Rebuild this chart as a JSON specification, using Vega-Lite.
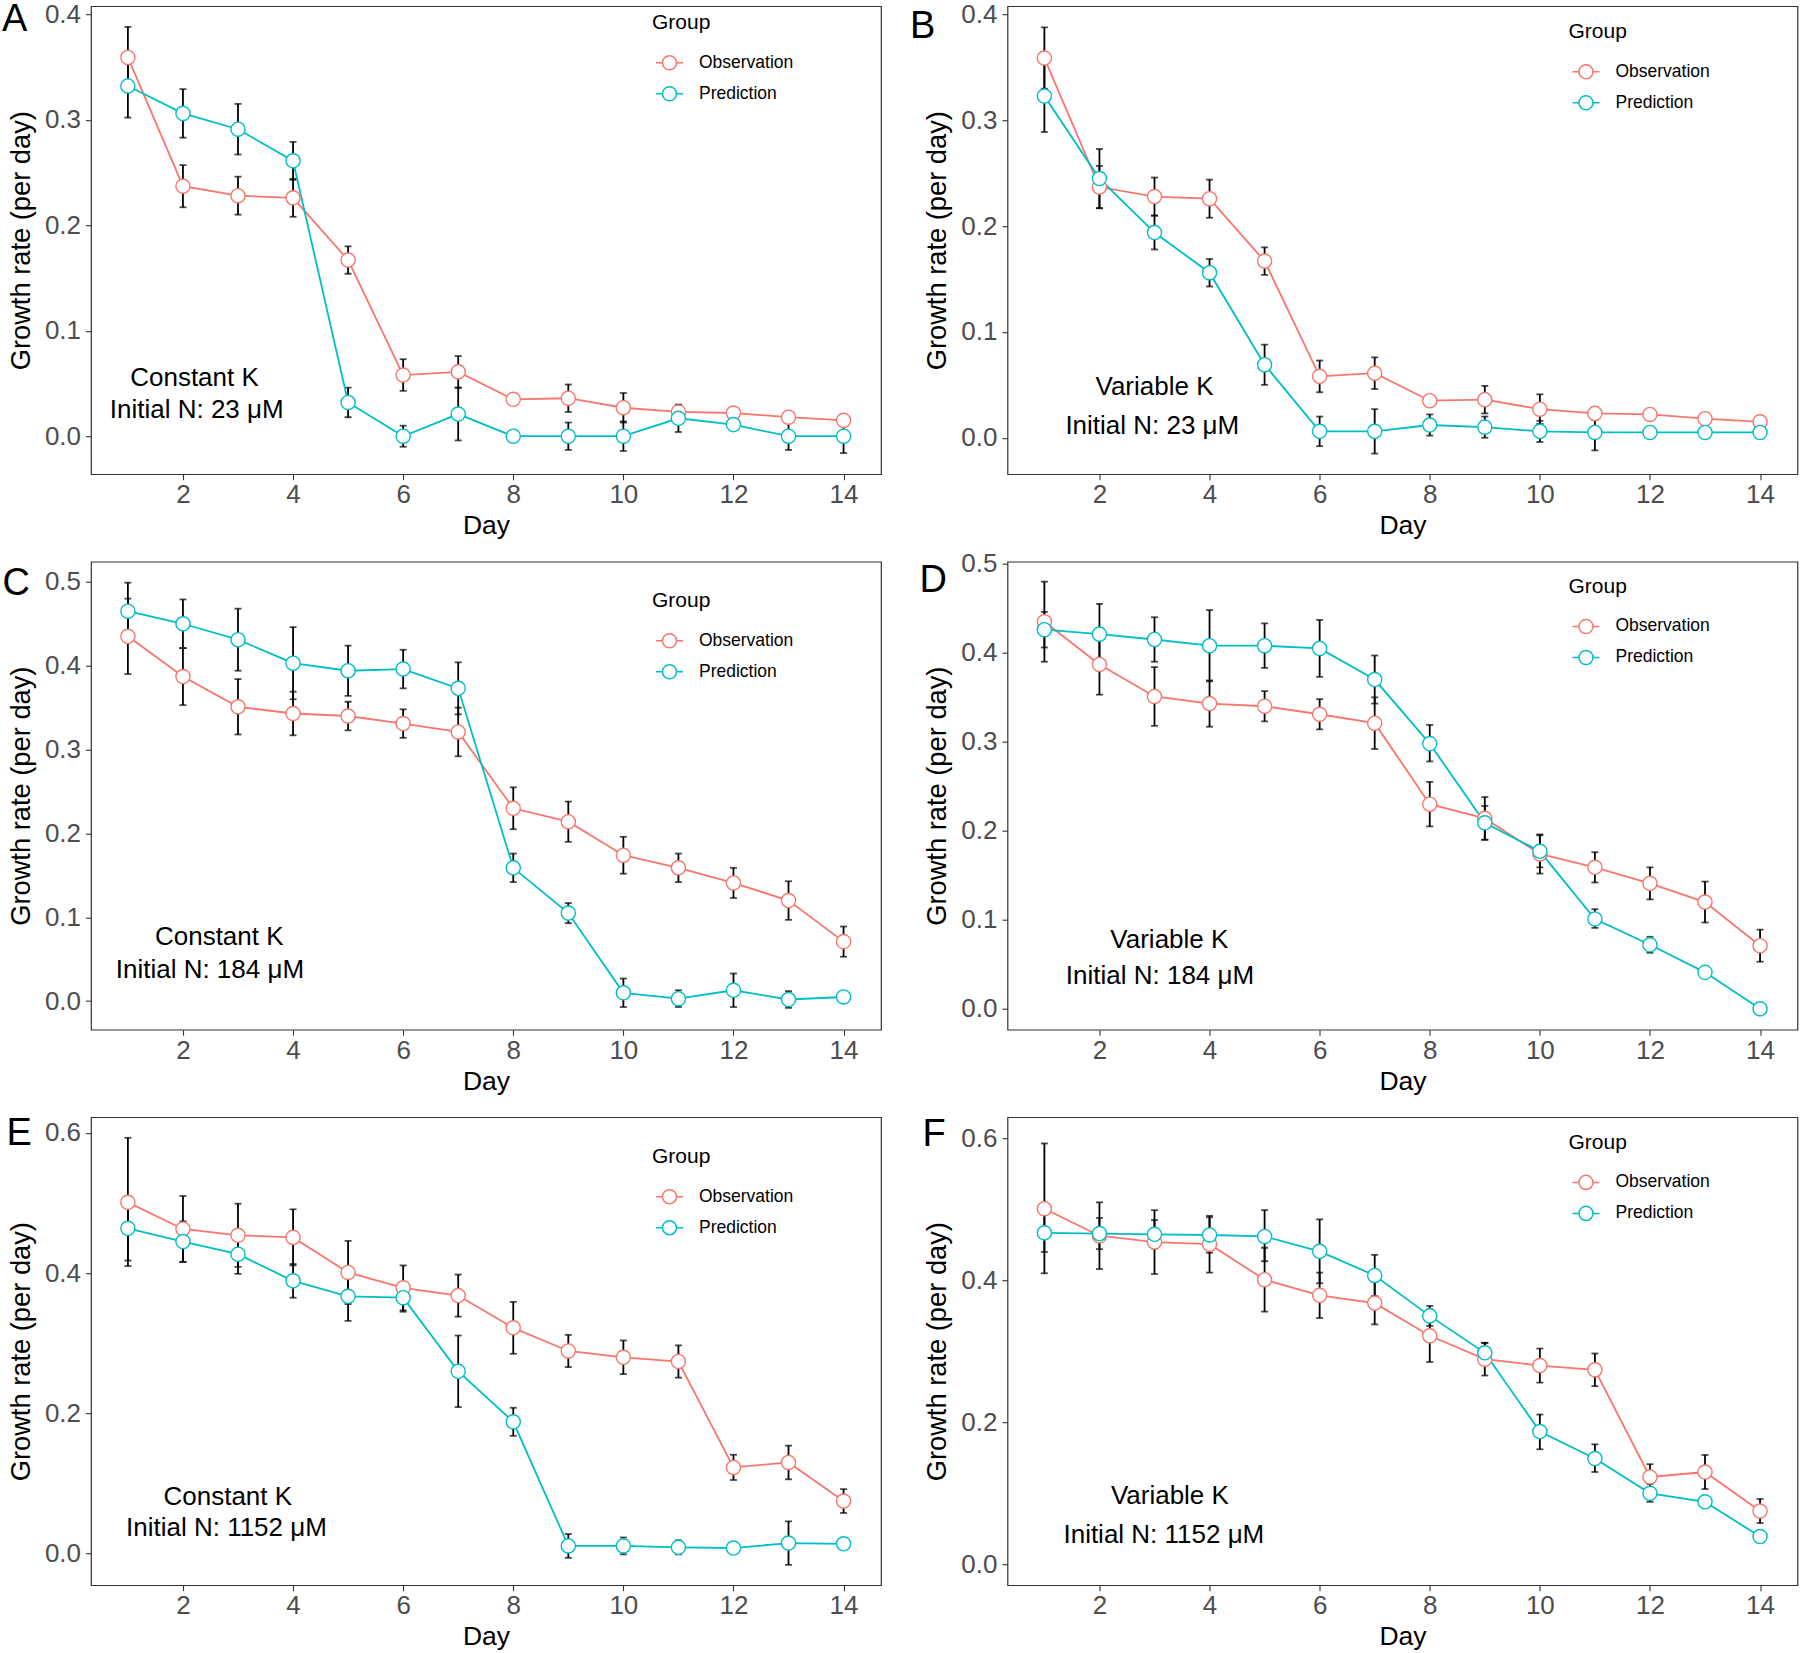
{
"$schema":"https://vega.github.io/schema/vega-lite/v6.json",
"background":"white",
"padding":{"left":1,"top":0.2,"right":0,"bottom":0},
"datasets":{
"pts":[
{"p":"A","g":"Observation","d":1,"v":0.359,"lo":0.330,"hi":0.388},
{"p":"A","g":"Observation","d":2,"v":0.237,"lo":0.217,"hi":0.257},
{"p":"A","g":"Observation","d":3,"v":0.228,"lo":0.210,"hi":0.246},
{"p":"A","g":"Observation","d":4,"v":0.226,"lo":0.208,"hi":0.244},
{"p":"A","g":"Observation","d":5,"v":0.167,"lo":0.154,"hi":0.180},
{"p":"A","g":"Observation","d":6,"v":0.058,"lo":0.043,"hi":0.073},
{"p":"A","g":"Observation","d":7,"v":0.061,"lo":0.046,"hi":0.076},
{"p":"A","g":"Observation","d":8,"v":0.035,"lo":null,"hi":null},
{"p":"A","g":"Observation","d":9,"v":0.036,"lo":0.023,"hi":0.049},
{"p":"A","g":"Observation","d":10,"v":0.027,"lo":0.013,"hi":0.041},
{"p":"A","g":"Observation","d":11,"v":0.023,"lo":0.017,"hi":0.029},
{"p":"A","g":"Observation","d":12,"v":0.022,"lo":null,"hi":null},
{"p":"A","g":"Observation","d":13,"v":0.018,"lo":null,"hi":null},
{"p":"A","g":"Observation","d":14,"v":0.015,"lo":null,"hi":null},
{"p":"A","g":"Prediction","d":1,"v":0.332,"lo":0.302,"hi":0.362},
{"p":"A","g":"Prediction","d":2,"v":0.306,"lo":0.283,"hi":0.329},
{"p":"A","g":"Prediction","d":3,"v":0.291,"lo":0.267,"hi":0.315},
{"p":"A","g":"Prediction","d":4,"v":0.261,"lo":0.243,"hi":0.279},
{"p":"A","g":"Prediction","d":5,"v":0.032,"lo":0.018,"hi":0.046},
{"p":"A","g":"Prediction","d":6,"v":0.000,"lo":-0.010,"hi":0.010},
{"p":"A","g":"Prediction","d":7,"v":0.021,"lo":-0.004,"hi":0.046},
{"p":"A","g":"Prediction","d":8,"v":0.000,"lo":null,"hi":null},
{"p":"A","g":"Prediction","d":9,"v":0.000,"lo":-0.013,"hi":0.013},
{"p":"A","g":"Prediction","d":10,"v":0.000,"lo":-0.014,"hi":0.014},
{"p":"A","g":"Prediction","d":11,"v":0.017,"lo":0.004,"hi":0.030},
{"p":"A","g":"Prediction","d":12,"v":0.011,"lo":null,"hi":null},
{"p":"A","g":"Prediction","d":13,"v":0.000,"lo":-0.013,"hi":0.013},
{"p":"A","g":"Prediction","d":14,"v":0.000,"lo":-0.016,"hi":0.016},
{"p":"B","g":"Observation","d":1,"v":0.359,"lo":0.330,"hi":0.388},
{"p":"B","g":"Observation","d":2,"v":0.237,"lo":0.217,"hi":0.257},
{"p":"B","g":"Observation","d":3,"v":0.228,"lo":0.210,"hi":0.246},
{"p":"B","g":"Observation","d":4,"v":0.226,"lo":0.208,"hi":0.244},
{"p":"B","g":"Observation","d":5,"v":0.167,"lo":0.154,"hi":0.180},
{"p":"B","g":"Observation","d":6,"v":0.058,"lo":0.043,"hi":0.073},
{"p":"B","g":"Observation","d":7,"v":0.061,"lo":0.046,"hi":0.076},
{"p":"B","g":"Observation","d":8,"v":0.035,"lo":null,"hi":null},
{"p":"B","g":"Observation","d":9,"v":0.036,"lo":0.023,"hi":0.049},
{"p":"B","g":"Observation","d":10,"v":0.027,"lo":0.013,"hi":0.041},
{"p":"B","g":"Observation","d":11,"v":0.023,"lo":0.017,"hi":0.029},
{"p":"B","g":"Observation","d":12,"v":0.022,"lo":null,"hi":null},
{"p":"B","g":"Observation","d":13,"v":0.018,"lo":null,"hi":null},
{"p":"B","g":"Observation","d":14,"v":0.015,"lo":null,"hi":null},
{"p":"B","g":"Prediction","d":1,"v":0.323,"lo":0.289,"hi":0.357},
{"p":"B","g":"Prediction","d":2,"v":0.245,"lo":0.217,"hi":0.273},
{"p":"B","g":"Prediction","d":3,"v":0.194,"lo":0.178,"hi":0.210},
{"p":"B","g":"Prediction","d":4,"v":0.156,"lo":0.143,"hi":0.169},
{"p":"B","g":"Prediction","d":5,"v":0.069,"lo":0.050,"hi":0.088},
{"p":"B","g":"Prediction","d":6,"v":0.006,"lo":-0.008,"hi":0.020},
{"p":"B","g":"Prediction","d":7,"v":0.006,"lo":-0.015,"hi":0.027},
{"p":"B","g":"Prediction","d":8,"v":0.012,"lo":0.002,"hi":0.022},
{"p":"B","g":"Prediction","d":9,"v":0.010,"lo":0.000,"hi":0.020},
{"p":"B","g":"Prediction","d":10,"v":0.006,"lo":-0.004,"hi":0.016},
{"p":"B","g":"Prediction","d":11,"v":0.005,"lo":-0.012,"hi":0.022},
{"p":"B","g":"Prediction","d":12,"v":0.005,"lo":null,"hi":null},
{"p":"B","g":"Prediction","d":13,"v":0.005,"lo":null,"hi":null},
{"p":"B","g":"Prediction","d":14,"v":0.005,"lo":0.000,"hi":0.010},
{"p":"C","g":"Observation","d":1,"v":0.435,"lo":0.390,"hi":0.480},
{"p":"C","g":"Observation","d":2,"v":0.387,"lo":0.353,"hi":0.421},
{"p":"C","g":"Observation","d":3,"v":0.351,"lo":0.318,"hi":0.384},
{"p":"C","g":"Observation","d":4,"v":0.343,"lo":0.317,"hi":0.369},
{"p":"C","g":"Observation","d":5,"v":0.340,"lo":0.323,"hi":0.357},
{"p":"C","g":"Observation","d":6,"v":0.331,"lo":0.314,"hi":0.348},
{"p":"C","g":"Observation","d":7,"v":0.321,"lo":0.292,"hi":0.350},
{"p":"C","g":"Observation","d":8,"v":0.230,"lo":0.205,"hi":0.255},
{"p":"C","g":"Observation","d":9,"v":0.214,"lo":0.190,"hi":0.238},
{"p":"C","g":"Observation","d":10,"v":0.174,"lo":0.152,"hi":0.196},
{"p":"C","g":"Observation","d":11,"v":0.159,"lo":0.142,"hi":0.176},
{"p":"C","g":"Observation","d":12,"v":0.141,"lo":0.123,"hi":0.159},
{"p":"C","g":"Observation","d":13,"v":0.120,"lo":0.097,"hi":0.143},
{"p":"C","g":"Observation","d":14,"v":0.071,"lo":0.053,"hi":0.089},
{"p":"C","g":"Prediction","d":1,"v":0.465,"lo":0.431,"hi":0.499},
{"p":"C","g":"Prediction","d":2,"v":0.450,"lo":0.421,"hi":0.479},
{"p":"C","g":"Prediction","d":3,"v":0.431,"lo":0.394,"hi":0.468},
{"p":"C","g":"Prediction","d":4,"v":0.403,"lo":0.360,"hi":0.446},
{"p":"C","g":"Prediction","d":5,"v":0.394,"lo":0.364,"hi":0.424},
{"p":"C","g":"Prediction","d":6,"v":0.396,"lo":0.373,"hi":0.419},
{"p":"C","g":"Prediction","d":7,"v":0.373,"lo":0.342,"hi":0.404},
{"p":"C","g":"Prediction","d":8,"v":0.159,"lo":0.142,"hi":0.176},
{"p":"C","g":"Prediction","d":9,"v":0.105,"lo":0.093,"hi":0.117},
{"p":"C","g":"Prediction","d":10,"v":0.010,"lo":-0.007,"hi":0.027},
{"p":"C","g":"Prediction","d":11,"v":0.003,"lo":-0.007,"hi":0.013},
{"p":"C","g":"Prediction","d":12,"v":0.013,"lo":-0.007,"hi":0.033},
{"p":"C","g":"Prediction","d":13,"v":0.002,"lo":-0.008,"hi":0.012},
{"p":"C","g":"Prediction","d":14,"v":0.005,"lo":null,"hi":null},
{"p":"D","g":"Observation","d":1,"v":0.435,"lo":0.390,"hi":0.480},
{"p":"D","g":"Observation","d":2,"v":0.387,"lo":0.353,"hi":0.421},
{"p":"D","g":"Observation","d":3,"v":0.351,"lo":0.318,"hi":0.384},
{"p":"D","g":"Observation","d":4,"v":0.343,"lo":0.317,"hi":0.369},
{"p":"D","g":"Observation","d":5,"v":0.340,"lo":0.323,"hi":0.357},
{"p":"D","g":"Observation","d":6,"v":0.331,"lo":0.314,"hi":0.348},
{"p":"D","g":"Observation","d":7,"v":0.321,"lo":0.292,"hi":0.350},
{"p":"D","g":"Observation","d":8,"v":0.230,"lo":0.205,"hi":0.255},
{"p":"D","g":"Observation","d":9,"v":0.214,"lo":0.190,"hi":0.238},
{"p":"D","g":"Observation","d":10,"v":0.174,"lo":0.152,"hi":0.196},
{"p":"D","g":"Observation","d":11,"v":0.159,"lo":0.142,"hi":0.176},
{"p":"D","g":"Observation","d":12,"v":0.141,"lo":0.123,"hi":0.159},
{"p":"D","g":"Observation","d":13,"v":0.120,"lo":0.097,"hi":0.143},
{"p":"D","g":"Observation","d":14,"v":0.071,"lo":0.053,"hi":0.089},
{"p":"D","g":"Prediction","d":1,"v":0.426,"lo":0.406,"hi":0.446},
{"p":"D","g":"Prediction","d":2,"v":0.421,"lo":0.387,"hi":0.455},
{"p":"D","g":"Prediction","d":3,"v":0.415,"lo":0.390,"hi":0.440},
{"p":"D","g":"Prediction","d":4,"v":0.408,"lo":0.368,"hi":0.448},
{"p":"D","g":"Prediction","d":5,"v":0.408,"lo":0.383,"hi":0.433},
{"p":"D","g":"Prediction","d":6,"v":0.405,"lo":0.373,"hi":0.437},
{"p":"D","g":"Prediction","d":7,"v":0.370,"lo":0.343,"hi":0.397},
{"p":"D","g":"Prediction","d":8,"v":0.298,"lo":0.278,"hi":0.319},
{"p":"D","g":"Prediction","d":9,"v":0.209,"lo":0.190,"hi":0.228},
{"p":"D","g":"Prediction","d":10,"v":0.177,"lo":0.159,"hi":0.195},
{"p":"D","g":"Prediction","d":11,"v":0.101,"lo":0.091,"hi":0.112},
{"p":"D","g":"Prediction","d":12,"v":0.072,"lo":0.063,"hi":0.081},
{"p":"D","g":"Prediction","d":13,"v":0.041,"lo":null,"hi":null},
{"p":"D","g":"Prediction","d":14,"v":0.000,"lo":null,"hi":null},
{"p":"E","g":"Observation","d":1,"v":0.501,"lo":0.410,"hi":0.593},
{"p":"E","g":"Observation","d":2,"v":0.463,"lo":0.416,"hi":0.510},
{"p":"E","g":"Observation","d":3,"v":0.454,"lo":0.409,"hi":0.499},
{"p":"E","g":"Observation","d":4,"v":0.451,"lo":0.411,"hi":0.491},
{"p":"E","g":"Observation","d":5,"v":0.401,"lo":0.356,"hi":0.446},
{"p":"E","g":"Observation","d":6,"v":0.379,"lo":0.347,"hi":0.411},
{"p":"E","g":"Observation","d":7,"v":0.368,"lo":0.338,"hi":0.398},
{"p":"E","g":"Observation","d":8,"v":0.322,"lo":0.285,"hi":0.359},
{"p":"E","g":"Observation","d":9,"v":0.289,"lo":0.266,"hi":0.312},
{"p":"E","g":"Observation","d":10,"v":0.280,"lo":0.256,"hi":0.304},
{"p":"E","g":"Observation","d":11,"v":0.274,"lo":0.251,"hi":0.297},
{"p":"E","g":"Observation","d":12,"v":0.123,"lo":0.105,"hi":0.141},
{"p":"E","g":"Observation","d":13,"v":0.130,"lo":0.106,"hi":0.154},
{"p":"E","g":"Observation","d":14,"v":0.075,"lo":0.058,"hi":0.092},
{"p":"E","g":"Prediction","d":1,"v":0.464,"lo":0.418,"hi":0.510},
{"p":"E","g":"Prediction","d":2,"v":0.445,"lo":0.416,"hi":0.474},
{"p":"E","g":"Prediction","d":3,"v":0.427,"lo":0.399,"hi":0.455},
{"p":"E","g":"Prediction","d":4,"v":0.389,"lo":0.365,"hi":0.413},
{"p":"E","g":"Prediction","d":5,"v":0.367,"lo":0.332,"hi":0.402},
{"p":"E","g":"Prediction","d":6,"v":0.365,"lo":0.345,"hi":0.385},
{"p":"E","g":"Prediction","d":7,"v":0.260,"lo":0.209,"hi":0.311},
{"p":"E","g":"Prediction","d":8,"v":0.188,"lo":0.168,"hi":0.208},
{"p":"E","g":"Prediction","d":9,"v":0.011,"lo":-0.006,"hi":0.028},
{"p":"E","g":"Prediction","d":10,"v":0.011,"lo":-0.001,"hi":0.023},
{"p":"E","g":"Prediction","d":11,"v":0.009,"lo":-0.001,"hi":0.019},
{"p":"E","g":"Prediction","d":12,"v":0.008,"lo":null,"hi":null},
{"p":"E","g":"Prediction","d":13,"v":0.015,"lo":-0.016,"hi":0.046},
{"p":"E","g":"Prediction","d":14,"v":0.014,"lo":null,"hi":null},
{"p":"F","g":"Observation","d":1,"v":0.501,"lo":0.410,"hi":0.593},
{"p":"F","g":"Observation","d":2,"v":0.463,"lo":0.416,"hi":0.510},
{"p":"F","g":"Observation","d":3,"v":0.454,"lo":0.409,"hi":0.499},
{"p":"F","g":"Observation","d":4,"v":0.451,"lo":0.411,"hi":0.491},
{"p":"F","g":"Observation","d":5,"v":0.401,"lo":0.356,"hi":0.446},
{"p":"F","g":"Observation","d":6,"v":0.379,"lo":0.347,"hi":0.411},
{"p":"F","g":"Observation","d":7,"v":0.368,"lo":0.338,"hi":0.398},
{"p":"F","g":"Observation","d":8,"v":0.322,"lo":0.285,"hi":0.359},
{"p":"F","g":"Observation","d":9,"v":0.289,"lo":0.266,"hi":0.312},
{"p":"F","g":"Observation","d":10,"v":0.280,"lo":0.256,"hi":0.304},
{"p":"F","g":"Observation","d":11,"v":0.274,"lo":0.251,"hi":0.297},
{"p":"F","g":"Observation","d":12,"v":0.123,"lo":0.105,"hi":0.141},
{"p":"F","g":"Observation","d":13,"v":0.130,"lo":0.106,"hi":0.154},
{"p":"F","g":"Observation","d":14,"v":0.075,"lo":0.058,"hi":0.092},
{"p":"F","g":"Prediction","d":1,"v":0.467,"lo":0.440,"hi":0.494},
{"p":"F","g":"Prediction","d":2,"v":0.466,"lo":0.444,"hi":0.488},
{"p":"F","g":"Prediction","d":3,"v":0.465,"lo":0.445,"hi":0.485},
{"p":"F","g":"Prediction","d":4,"v":0.464,"lo":0.439,"hi":0.489},
{"p":"F","g":"Prediction","d":5,"v":0.462,"lo":0.427,"hi":0.499},
{"p":"F","g":"Prediction","d":6,"v":0.441,"lo":0.396,"hi":0.486},
{"p":"F","g":"Prediction","d":7,"v":0.407,"lo":0.378,"hi":0.436},
{"p":"F","g":"Prediction","d":8,"v":0.350,"lo":0.336,"hi":0.364},
{"p":"F","g":"Prediction","d":9,"v":0.298,"lo":0.285,"hi":0.312},
{"p":"F","g":"Prediction","d":10,"v":0.187,"lo":0.162,"hi":0.211},
{"p":"F","g":"Prediction","d":11,"v":0.149,"lo":0.130,"hi":0.169},
{"p":"F","g":"Prediction","d":12,"v":0.100,"lo":0.088,"hi":0.113},
{"p":"F","g":"Prediction","d":13,"v":0.088,"lo":null,"hi":null},
{"p":"F","g":"Prediction","d":14,"v":0.039,"lo":null,"hi":null}
],
"notes":[
{"p":"A","d":2.21,"v":0.0472,"label":"Constant K"},
{"p":"A","d":2.25,"v":0.0172,"label":"Initial N: 23 μM"},
{"p":"B","d":3.00,"v":0.0404,"label":"Variable K"},
{"p":"B","d":2.96,"v":0.0039,"label":"Initial N: 23 μM"},
{"p":"C","d":2.66,"v":0.0667,"label":"Constant K"},
{"p":"C","d":2.49,"v":0.0274,"label":"Initial N: 184 μM"},
{"p":"D","d":3.27,"v":0.0684,"label":"Variable K"},
{"p":"D","d":3.10,"v":0.0282,"label":"Initial N: 184 μM"},
{"p":"E","d":2.815,"v":0.0687,"label":"Constant K"},
{"p":"E","d":2.79,"v":0.0249,"label":"Initial N: 1152 μM"},
{"p":"F","d":3.28,"v":0.085,"label":"Variable K"},
{"p":"F","d":3.17,"v":0.0294,"label":"Initial N: 1152 μM"}
]
},
"columns":2,
"spacing":{"row":87.5,"column":126.5},
"bounds":"flush",
"resolve":{"scale":{"x":"independent","y":"independent","stroke":"independent"},"legend":{"stroke":"independent"},"axis":{"x":"independent","y":"independent"}},
"concat":[
{"width":790,"height":468,"data":{"name":"pts"},
"title":{"text":"A","anchor":"start","frame":"group","orient":"top","fontSize":38,"fontWeight":"normal","color":"black","font":"Liberation Sans","baseline":"alphabetic","align":"left","offset":0,"dx":-89,"dy":68.1},
"encoding":{"x":{"field":"d","type":"quantitative","title":"Day","scale":{"domain":[0.33,14.68],"nice":false,"zero":false},"axis":{"values":[2,4,6,8,10,12,14]}}},
"layer":[
{"transform":[{"filter":"datum.p==='A' && datum.lo != null"}],"mark":{"type":"rule","color":"black","strokeWidth":1.8},
"encoding":{"y":{"field":"lo","type":"quantitative","title":"Growth rate (per day)","scale":{"domain":[-0.036,0.4076],"nice":false,"zero":false},"axis":{"values":[0,0.1,0.2,0.3,0.4],"format":".1f"}},"y2":{"field":"hi"}}},
{"transform":[{"filter":"datum.p==='A' && datum.lo != null"}],"mark":{"type":"tick","orient":"horizontal","size":7,"thickness":1.8,"color":"black"},
"encoding":{"y":{"field":"lo","type":"quantitative","title":"Growth rate (per day)","scale":{"domain":[-0.036,0.4076],"nice":false,"zero":false},"axis":{"values":[0,0.1,0.2,0.3,0.4],"format":".1f"}}}},
{"transform":[{"filter":"datum.p==='A' && datum.lo != null"}],"mark":{"type":"tick","orient":"horizontal","size":7,"thickness":1.8,"color":"black"},
"encoding":{"y":{"field":"hi","type":"quantitative","title":"Growth rate (per day)","scale":{"domain":[-0.036,0.4076],"nice":false,"zero":false},"axis":{"values":[0,0.1,0.2,0.3,0.4],"format":".1f"}}}},
{"transform":[{"filter":"datum.p==='A'"}],
"encoding":{"y":{"field":"v","type":"quantitative","title":"Growth rate (per day)","scale":{"domain":[-0.036,0.4076],"nice":false,"zero":false},"axis":{"values":[0,0.1,0.2,0.3,0.4],"format":".1f"}},
"stroke":{"field":"g","type":"nominal","scale":{"domain":["Observation","Prediction"],"range":["#F8766D","#00BFC4"]},"legend":{"orient":"none","legendX":561,"legendY":6,"title":"Group"}}},
"layer":[{"mark":{"type":"line","strokeWidth":1.8}},{"mark":{"type":"point","shape":"circle","filled":false,"fill":"white","fillOpacity":1,"opacity":1,"size":200,"strokeWidth":1.4}}]},
{"data":{"name":"notes"},"transform":[{"filter":"datum.p==='A'"}],"mark":{"type":"text","align":"center","baseline":"alphabetic","fontSize":26,"color":"black","font":"Liberation Sans"},
"encoding":{"y":{"field":"v","type":"quantitative","title":"Growth rate (per day)","scale":{"domain":[-0.036,0.4076],"nice":false,"zero":false},"axis":{"values":[0,0.1,0.2,0.3,0.4],"format":".1f"}},"text":{"field":"label"}}}
]},
{"width":790,"height":468,"data":{"name":"pts"},
"title":{"text":"B","anchor":"start","frame":"group","orient":"top","fontSize":38,"fontWeight":"normal","color":"black","font":"Liberation Sans","baseline":"alphabetic","align":"left","offset":0,"dx":-97.5,"dy":74.5},
"encoding":{"x":{"field":"d","type":"quantitative","title":"Day","scale":{"domain":[0.33,14.68],"nice":false,"zero":false},"axis":{"values":[2,4,6,8,10,12,14]}}},
"layer":[
{"transform":[{"filter":"datum.p==='B' && datum.lo != null"}],"mark":{"type":"rule","color":"black","strokeWidth":1.8},
"encoding":{"y":{"field":"lo","type":"quantitative","title":"Growth rate (per day)","scale":{"domain":[-0.0345,0.408],"nice":false,"zero":false},"axis":{"values":[0,0.1,0.2,0.3,0.4],"format":".1f"}},"y2":{"field":"hi"}}},
{"transform":[{"filter":"datum.p==='B' && datum.lo != null"}],"mark":{"type":"tick","orient":"horizontal","size":7,"thickness":1.8,"color":"black"},
"encoding":{"y":{"field":"lo","type":"quantitative","title":"Growth rate (per day)","scale":{"domain":[-0.0345,0.408],"nice":false,"zero":false},"axis":{"values":[0,0.1,0.2,0.3,0.4],"format":".1f"}}}},
{"transform":[{"filter":"datum.p==='B' && datum.lo != null"}],"mark":{"type":"tick","orient":"horizontal","size":7,"thickness":1.8,"color":"black"},
"encoding":{"y":{"field":"hi","type":"quantitative","title":"Growth rate (per day)","scale":{"domain":[-0.0345,0.408],"nice":false,"zero":false},"axis":{"values":[0,0.1,0.2,0.3,0.4],"format":".1f"}}}},
{"transform":[{"filter":"datum.p==='B'"}],
"encoding":{"y":{"field":"v","type":"quantitative","title":"Growth rate (per day)","scale":{"domain":[-0.0345,0.408],"nice":false,"zero":false},"axis":{"values":[0,0.1,0.2,0.3,0.4],"format":".1f"}},
"stroke":{"field":"g","type":"nominal","scale":{"domain":["Observation","Prediction"],"range":["#F8766D","#00BFC4"]},"legend":{"orient":"none","legendX":561,"legendY":15,"title":"Group"}}},
"layer":[{"mark":{"type":"line","strokeWidth":1.8}},{"mark":{"type":"point","shape":"circle","filled":false,"fill":"white","fillOpacity":1,"opacity":1,"size":200,"strokeWidth":1.4}}]},
{"data":{"name":"notes"},"transform":[{"filter":"datum.p==='B'"}],"mark":{"type":"text","align":"center","baseline":"alphabetic","fontSize":26,"color":"black","font":"Liberation Sans"},
"encoding":{"y":{"field":"v","type":"quantitative","title":"Growth rate (per day)","scale":{"domain":[-0.0345,0.408],"nice":false,"zero":false},"axis":{"values":[0,0.1,0.2,0.3,0.4],"format":".1f"}},"text":{"field":"label"}}}
]},
{"width":790,"height":468,"data":{"name":"pts"},
"title":{"text":"C","anchor":"start","frame":"group","orient":"top","fontSize":38,"fontWeight":"normal","color":"black","font":"Liberation Sans","baseline":"alphabetic","align":"left","offset":0,"dx":-88.5,"dy":71.3},
"encoding":{"x":{"field":"d","type":"quantitative","title":"Day","scale":{"domain":[0.33,14.68],"nice":false,"zero":false},"axis":{"values":[2,4,6,8,10,12,14]}}},
"layer":[
{"transform":[{"filter":"datum.p==='C' && datum.lo != null"}],"mark":{"type":"rule","color":"black","strokeWidth":1.8},
"encoding":{"y":{"field":"lo","type":"quantitative","title":"Growth rate (per day)","scale":{"domain":[-0.034,0.524],"nice":false,"zero":false},"axis":{"values":[0,0.1,0.2,0.3,0.4,0.5],"format":".1f"}},"y2":{"field":"hi"}}},
{"transform":[{"filter":"datum.p==='C' && datum.lo != null"}],"mark":{"type":"tick","orient":"horizontal","size":7,"thickness":1.8,"color":"black"},
"encoding":{"y":{"field":"lo","type":"quantitative","title":"Growth rate (per day)","scale":{"domain":[-0.034,0.524],"nice":false,"zero":false},"axis":{"values":[0,0.1,0.2,0.3,0.4,0.5],"format":".1f"}}}},
{"transform":[{"filter":"datum.p==='C' && datum.lo != null"}],"mark":{"type":"tick","orient":"horizontal","size":7,"thickness":1.8,"color":"black"},
"encoding":{"y":{"field":"hi","type":"quantitative","title":"Growth rate (per day)","scale":{"domain":[-0.034,0.524],"nice":false,"zero":false},"axis":{"values":[0,0.1,0.2,0.3,0.4,0.5],"format":".1f"}}}},
{"transform":[{"filter":"datum.p==='C'"}],
"encoding":{"y":{"field":"v","type":"quantitative","title":"Growth rate (per day)","scale":{"domain":[-0.034,0.524],"nice":false,"zero":false},"axis":{"values":[0,0.1,0.2,0.3,0.4,0.5],"format":".1f"}},
"stroke":{"field":"g","type":"nominal","scale":{"domain":["Observation","Prediction"],"range":["#F8766D","#00BFC4"]},"legend":{"orient":"none","legendX":561,"legendY":28.6,"title":"Group"}}},
"layer":[{"mark":{"type":"line","strokeWidth":1.8}},{"mark":{"type":"point","shape":"circle","filled":false,"fill":"white","fillOpacity":1,"opacity":1,"size":200,"strokeWidth":1.4}}]},
{"data":{"name":"notes"},"transform":[{"filter":"datum.p==='C'"}],"mark":{"type":"text","align":"center","baseline":"alphabetic","fontSize":26,"color":"black","font":"Liberation Sans"},
"encoding":{"y":{"field":"v","type":"quantitative","title":"Growth rate (per day)","scale":{"domain":[-0.034,0.524],"nice":false,"zero":false},"axis":{"values":[0,0.1,0.2,0.3,0.4,0.5],"format":".1f"}},"text":{"field":"label"}}}
]},
{"width":790,"height":468,"data":{"name":"pts"},
"title":{"text":"D","anchor":"start","frame":"group","orient":"top","fontSize":38,"fontWeight":"normal","color":"black","font":"Liberation Sans","baseline":"alphabetic","align":"left","offset":0,"dx":-88,"dy":78.8},
"encoding":{"x":{"field":"d","type":"quantitative","title":"Day","scale":{"domain":[0.33,14.68],"nice":false,"zero":false},"axis":{"values":[2,4,6,8,10,12,14]}}},
"layer":[
{"transform":[{"filter":"datum.p==='D' && datum.lo != null"}],"mark":{"type":"rule","color":"black","strokeWidth":1.8},
"encoding":{"y":{"field":"lo","type":"quantitative","title":"Growth rate (per day)","scale":{"domain":[-0.0234,0.5024],"nice":false,"zero":false},"axis":{"values":[0,0.1,0.2,0.3,0.4,0.5],"format":".1f"}},"y2":{"field":"hi"}}},
{"transform":[{"filter":"datum.p==='D' && datum.lo != null"}],"mark":{"type":"tick","orient":"horizontal","size":7,"thickness":1.8,"color":"black"},
"encoding":{"y":{"field":"lo","type":"quantitative","title":"Growth rate (per day)","scale":{"domain":[-0.0234,0.5024],"nice":false,"zero":false},"axis":{"values":[0,0.1,0.2,0.3,0.4,0.5],"format":".1f"}}}},
{"transform":[{"filter":"datum.p==='D' && datum.lo != null"}],"mark":{"type":"tick","orient":"horizontal","size":7,"thickness":1.8,"color":"black"},
"encoding":{"y":{"field":"hi","type":"quantitative","title":"Growth rate (per day)","scale":{"domain":[-0.0234,0.5024],"nice":false,"zero":false},"axis":{"values":[0,0.1,0.2,0.3,0.4,0.5],"format":".1f"}}}},
{"transform":[{"filter":"datum.p==='D'"}],
"encoding":{"y":{"field":"v","type":"quantitative","title":"Growth rate (per day)","scale":{"domain":[-0.0234,0.5024],"nice":false,"zero":false},"axis":{"values":[0,0.1,0.2,0.3,0.4,0.5],"format":".1f"}},
"stroke":{"field":"g","type":"nominal","scale":{"domain":["Observation","Prediction"],"range":["#F8766D","#00BFC4"]},"legend":{"orient":"none","legendX":561,"legendY":14.3,"title":"Group"}}},
"layer":[{"mark":{"type":"line","strokeWidth":1.8}},{"mark":{"type":"point","shape":"circle","filled":false,"fill":"white","fillOpacity":1,"opacity":1,"size":200,"strokeWidth":1.4}}]},
{"data":{"name":"notes"},"transform":[{"filter":"datum.p==='D'"}],"mark":{"type":"text","align":"center","baseline":"alphabetic","fontSize":26,"color":"black","font":"Liberation Sans"},
"encoding":{"y":{"field":"v","type":"quantitative","title":"Growth rate (per day)","scale":{"domain":[-0.0234,0.5024],"nice":false,"zero":false},"axis":{"values":[0,0.1,0.2,0.3,0.4,0.5],"format":".1f"}},"text":{"field":"label"}}}
]},
{"width":790,"height":468,"data":{"name":"pts"},
"title":{"text":"E","anchor":"start","frame":"group","orient":"top","fontSize":38,"fontWeight":"normal","color":"black","font":"Liberation Sans","baseline":"alphabetic","align":"left","offset":0,"dx":-84.5,"dy":65.8},
"encoding":{"x":{"field":"d","type":"quantitative","title":"Day","scale":{"domain":[0.33,14.68],"nice":false,"zero":false},"axis":{"values":[2,4,6,8,10,12,14]}}},
"layer":[
{"transform":[{"filter":"datum.p==='E' && datum.lo != null"}],"mark":{"type":"rule","color":"black","strokeWidth":1.8},
"encoding":{"y":{"field":"lo","type":"quantitative","title":"Growth rate (per day)","scale":{"domain":[-0.045,0.6224],"nice":false,"zero":false},"axis":{"values":[0,0.2,0.4,0.6],"format":".1f"}},"y2":{"field":"hi"}}},
{"transform":[{"filter":"datum.p==='E' && datum.lo != null"}],"mark":{"type":"tick","orient":"horizontal","size":7,"thickness":1.8,"color":"black"},
"encoding":{"y":{"field":"lo","type":"quantitative","title":"Growth rate (per day)","scale":{"domain":[-0.045,0.6224],"nice":false,"zero":false},"axis":{"values":[0,0.2,0.4,0.6],"format":".1f"}}}},
{"transform":[{"filter":"datum.p==='E' && datum.lo != null"}],"mark":{"type":"tick","orient":"horizontal","size":7,"thickness":1.8,"color":"black"},
"encoding":{"y":{"field":"hi","type":"quantitative","title":"Growth rate (per day)","scale":{"domain":[-0.045,0.6224],"nice":false,"zero":false},"axis":{"values":[0,0.2,0.4,0.6],"format":".1f"}}}},
{"transform":[{"filter":"datum.p==='E'"}],
"encoding":{"y":{"field":"v","type":"quantitative","title":"Growth rate (per day)","scale":{"domain":[-0.045,0.6224],"nice":false,"zero":false},"axis":{"values":[0,0.2,0.4,0.6],"format":".1f"}},
"stroke":{"field":"g","type":"nominal","scale":{"domain":["Observation","Prediction"],"range":["#F8766D","#00BFC4"]},"legend":{"orient":"none","legendX":561,"legendY":29,"title":"Group"}}},
"layer":[{"mark":{"type":"line","strokeWidth":1.8}},{"mark":{"type":"point","shape":"circle","filled":false,"fill":"white","fillOpacity":1,"opacity":1,"size":200,"strokeWidth":1.4}}]},
{"data":{"name":"notes"},"transform":[{"filter":"datum.p==='E'"}],"mark":{"type":"text","align":"center","baseline":"alphabetic","fontSize":26,"color":"black","font":"Liberation Sans"},
"encoding":{"y":{"field":"v","type":"quantitative","title":"Growth rate (per day)","scale":{"domain":[-0.045,0.6224],"nice":false,"zero":false},"axis":{"values":[0,0.2,0.4,0.6],"format":".1f"}},"text":{"field":"label"}}}
]},
{"width":790,"height":468,"data":{"name":"pts"},
"title":{"text":"F","anchor":"start","frame":"group","orient":"top","fontSize":38,"fontWeight":"normal","color":"black","font":"Liberation Sans","baseline":"alphabetic","align":"left","offset":0,"dx":-85,"dy":66.8},
"encoding":{"x":{"field":"d","type":"quantitative","title":"Day","scale":{"domain":[0.33,14.68],"nice":false,"zero":false},"axis":{"values":[2,4,6,8,10,12,14]}}},
"layer":[
{"transform":[{"filter":"datum.p==='F' && datum.lo != null"}],"mark":{"type":"rule","color":"black","strokeWidth":1.8},
"encoding":{"y":{"field":"lo","type":"quantitative","title":"Growth rate (per day)","scale":{"domain":[-0.0295,0.630],"nice":false,"zero":false},"axis":{"values":[0,0.2,0.4,0.6],"format":".1f"}},"y2":{"field":"hi"}}},
{"transform":[{"filter":"datum.p==='F' && datum.lo != null"}],"mark":{"type":"tick","orient":"horizontal","size":7,"thickness":1.8,"color":"black"},
"encoding":{"y":{"field":"lo","type":"quantitative","title":"Growth rate (per day)","scale":{"domain":[-0.0295,0.630],"nice":false,"zero":false},"axis":{"values":[0,0.2,0.4,0.6],"format":".1f"}}}},
{"transform":[{"filter":"datum.p==='F' && datum.lo != null"}],"mark":{"type":"tick","orient":"horizontal","size":7,"thickness":1.8,"color":"black"},
"encoding":{"y":{"field":"hi","type":"quantitative","title":"Growth rate (per day)","scale":{"domain":[-0.0295,0.630],"nice":false,"zero":false},"axis":{"values":[0,0.2,0.4,0.6],"format":".1f"}}}},
{"transform":[{"filter":"datum.p==='F'"}],
"encoding":{"y":{"field":"v","type":"quantitative","title":"Growth rate (per day)","scale":{"domain":[-0.0295,0.630],"nice":false,"zero":false},"axis":{"values":[0,0.2,0.4,0.6],"format":".1f"}},
"stroke":{"field":"g","type":"nominal","scale":{"domain":["Observation","Prediction"],"range":["#F8766D","#00BFC4"]},"legend":{"orient":"none","legendX":561,"legendY":14.7,"title":"Group"}}},
"layer":[{"mark":{"type":"line","strokeWidth":1.8}},{"mark":{"type":"point","shape":"circle","filled":false,"fill":"white","fillOpacity":1,"opacity":1,"size":200,"strokeWidth":1.4}}]},
{"data":{"name":"notes"},"transform":[{"filter":"datum.p==='F'"}],"mark":{"type":"text","align":"center","baseline":"alphabetic","fontSize":26,"color":"black","font":"Liberation Sans"},
"encoding":{"y":{"field":"v","type":"quantitative","title":"Growth rate (per day)","scale":{"domain":[-0.0295,0.630],"nice":false,"zero":false},"axis":{"values":[0,0.2,0.4,0.6],"format":".1f"}},"text":{"field":"label"}}}
]}
],
"config":{
"font":"Liberation Sans",
"view":{"stroke":"#333333","strokeWidth":1.2},
"axis":{"grid":false,"domain":false,"tickColor":"#333333","tickSize":5.5,"tickWidth":1.1,"labelColor":"#4D4D4D","labelFontSize":26,"labelFont":"Liberation Sans","titleFont":"Liberation Sans","titleFontSize":26.5,"titleFontWeight":"normal","titleColor":"black","labelFlush":false,"labelOverlap":false},
"axisX":{"labelPadding":2,"titlePadding":5.2},
"axisY":{"labelPadding":5,"titlePadding":9,"titleFontSize":27.3},
"legend":{"titleFontSize":21,"titleColor":"black","titleFontWeight":"normal","titleFont":"Liberation Sans","titlePadding":15,"labelFontSize":17.5,"labelColor":"black","labelFont":"Liberation Sans","labelOffset":15,"symbolType":"M -1 0 L -0.52 0 M 0.52 0 L 1 0 M 0.52 0 A 0.52 0.52 0 1 1 -0.52 0 A 0.52 0.52 0 1 1 0.52 0 Z","symbolSize":729,"symbolStrokeWidth":1.5,"symbolFillColor":"white","rowPadding":6,"padding":0,"symbolOffset":3}
}
}
